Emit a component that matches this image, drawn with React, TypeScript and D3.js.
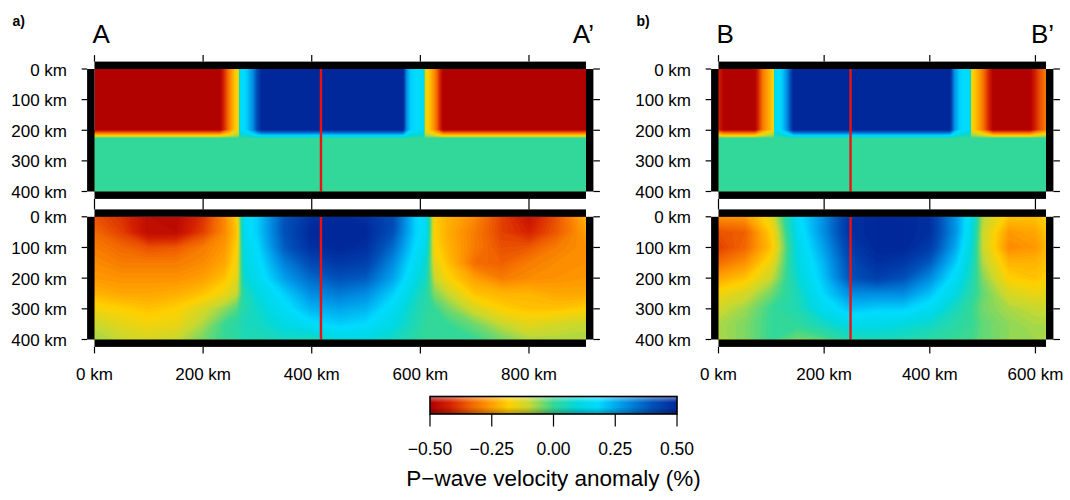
import * as d3 from 'd3';
import React from 'react';

const FONT = '"Liberation Sans", Arial, Helvetica, sans-serif';

// colour table (anomaly % -> colour)
const cptValues = [-0.5, -0.42, -0.34, -0.26, -0.18, -0.1, 0, 0.1, 0.18, 0.28, 0.4, 0.5];
const cptColors = ['#b00000', '#d42000', '#f06000', '#ff9800', '#ffd000', '#c8d830', '#34d896', '#00d8e0', '#00dcff', '#0098e8', '#0050b8', '#00289a'];
const colorbarTicks = [-0.5, -0.25, 0, 0.25, 0.5];

const depthTicks = [0, 100, 200, 300, 400];
const ticksA = [0, 200, 400, 600, 800];
const ticksB = [0, 200, 400, 600];
const lengthA = 905;
const lengthB = 620;
const crossA = 417;
const crossB = 250;

// profile A, input model (km along profile / depth km)
const modelACols = [0, 231, 248, 258, 266, 268, 280, 292, 300, 308, 568, 574, 582, 606, 608, 617, 628, 642, 905];
const modelARows = [0, 198, 210, 218, 226, 400];
const modelA = [
  [-0.5, -0.5, -0.3, -0.2, -0.15, 0.15, 0.2, 0.3, 0.42, 0.5, 0.5, 0.3, 0.2, 0.15, -0.15, -0.2, -0.3, -0.5, -0.5],
  [-0.5, -0.5, -0.3, -0.2, -0.15, 0.15, 0.2, 0.3, 0.42, 0.5, 0.5, 0.3, 0.2, 0.15, -0.15, -0.2, -0.3, -0.5, -0.5],
  [-0.3, -0.3, -0.2, -0.14, -0.1, 0.1, 0.13, 0.2, 0.26, 0.3, 0.3, 0.2, 0.13, 0.1, -0.1, -0.13, -0.2, -0.3, -0.3],
  [-0.17, -0.17, -0.12, -0.08, -0.06, 0.06, 0.08, 0.12, 0.15, 0.17, 0.17, 0.12, 0.08, 0.06, -0.06, -0.08, -0.12, -0.17, -0.17],
  [0, 0, 0, 0, 0, 0, 0, 0, 0, 0, 0, 0, 0, 0, 0, 0, 0, 0, 0],
  [0, 0, 0, 0, 0, 0, 0, 0, 0, 0, 0, 0, 0, 0, 0, 0, 0, 0, 0],
];

// profile A, recovered model
const recACols = [0, 50, 100, 150, 200, 240, 262, 276, 300, 350, 400, 450, 500, 550, 590, 610, 626, 650, 700, 750, 800, 850, 905];
const recARows = [0, 50, 100, 150, 200, 250, 300, 350, 400];
const recA = [
  [-0.36, -0.4, -0.47, -0.48, -0.4, -0.28, -0.18, 0.15, 0.2, 0.4, 0.48, 0.5, 0.48, 0.42, 0.2, 0.15, -0.18, -0.22, -0.28, -0.38, -0.45, -0.36, -0.22],
  [-0.33, -0.38, -0.47, -0.47, -0.38, -0.28, -0.2, 0.15, 0.2, 0.4, 0.5, 0.5, 0.5, 0.4, 0.2, 0.15, -0.18, -0.23, -0.3, -0.38, -0.42, -0.35, -0.25],
  [-0.3, -0.33, -0.36, -0.35, -0.3, -0.26, -0.18, 0.12, 0.18, 0.38, 0.48, 0.5, 0.48, 0.35, 0.18, 0.12, -0.17, -0.22, -0.3, -0.36, -0.35, -0.3, -0.27],
  [-0.28, -0.3, -0.3, -0.3, -0.28, -0.24, -0.16, 0.1, 0.16, 0.32, 0.42, 0.46, 0.44, 0.3, 0.15, 0.08, -0.14, -0.2, -0.32, -0.34, -0.3, -0.28, -0.27],
  [-0.26, -0.27, -0.27, -0.27, -0.25, -0.2, -0.14, 0.08, 0.14, 0.27, 0.36, 0.4, 0.38, 0.26, 0.12, 0.06, -0.1, -0.17, -0.25, -0.3, -0.28, -0.27, -0.26],
  [-0.22, -0.24, -0.24, -0.23, -0.2, -0.15, -0.1, 0.04, 0.1, 0.2, 0.3, 0.33, 0.3, 0.2, 0.08, 0.03, -0.05, -0.1, -0.2, -0.22, -0.22, -0.24, -0.24],
  [-0.16, -0.18, -0.2, -0.18, -0.12, -0.06, -0.02, 0.03, 0.07, 0.16, 0.24, 0.26, 0.24, 0.15, 0.05, 0.02, 0.0, -0.04, -0.12, -0.18, -0.2, -0.2, -0.18],
  [-0.1, -0.14, -0.16, -0.15, -0.08, 0.0, 0.02, 0.05, 0.06, 0.11, 0.17, 0.2, 0.18, 0.11, 0.04, 0.01, 0.0, 0.0, -0.04, -0.1, -0.14, -0.12, -0.1],
  [-0.07, -0.1, -0.12, -0.1, -0.04, 0.0, 0.02, 0.04, 0.04, 0.06, 0.04, 0.1, 0.1, 0.06, 0.02, 0.0, 0.0, 0.0, 0.0, -0.04, -0.08, -0.08, -0.08],
];

// profile B, input model
const modelBCols = [0, 10, 69, 84, 100, 105, 107, 120, 130, 142, 438, 446, 456, 476, 478, 486, 500, 520, 590, 605, 620];
const modelBRows = [0, 198, 210, 218, 226, 400];
const modelB = [
  [-0.42, -0.5, -0.5, -0.3, -0.2, -0.15, 0.15, 0.2, 0.3, 0.5, 0.5, 0.3, 0.2, 0.15, -0.15, -0.2, -0.3, -0.5, -0.5, -0.38, -0.3],
  [-0.42, -0.5, -0.5, -0.3, -0.2, -0.15, 0.15, 0.2, 0.3, 0.5, 0.5, 0.3, 0.2, 0.15, -0.15, -0.2, -0.3, -0.5, -0.5, -0.38, -0.3],
  [-0.25, -0.3, -0.3, -0.18, -0.12, -0.09, 0.09, 0.12, 0.18, 0.3, 0.3, 0.18, 0.12, 0.09, -0.09, -0.12, -0.18, -0.3, -0.3, -0.23, -0.18],
  [-0.14, -0.17, -0.17, -0.1, -0.07, -0.05, 0.05, 0.07, 0.1, 0.17, 0.17, 0.1, 0.07, 0.05, -0.05, -0.07, -0.1, -0.17, -0.17, -0.13, -0.1],
  [0, 0, 0, 0, 0, 0, 0, 0, 0, 0, 0, 0, 0, 0, 0, 0, 0, 0, 0, 0, 0],
  [0, 0, 0, 0, 0, 0, 0, 0, 0, 0, 0, 0, 0, 0, 0, 0, 0, 0, 0, 0, 0],
];

// profile B, recovered model
const recBCols = [0, 50, 100, 150, 200, 250, 300, 350, 400, 450, 480, 500, 550, 600, 620];
const recBRows = [0, 50, 100, 150, 200, 250, 300, 350, 400];
const recB = [
  [-0.27, -0.26, -0.14, 0.16, 0.3, 0.48, 0.5, 0.5, 0.48, 0.28, 0.12, -0.08, -0.2, -0.2, -0.18],
  [-0.36, -0.34, -0.18, 0.14, 0.3, 0.48, 0.5, 0.5, 0.48, 0.28, 0.1, -0.1, -0.26, -0.24, -0.2],
  [-0.38, -0.33, -0.2, 0.12, 0.27, 0.45, 0.5, 0.5, 0.45, 0.25, 0.08, -0.1, -0.28, -0.26, -0.22],
  [-0.32, -0.27, -0.15, 0.1, 0.24, 0.42, 0.48, 0.46, 0.38, 0.2, 0.06, -0.08, -0.22, -0.22, -0.2],
  [-0.24, -0.2, -0.1, 0.08, 0.22, 0.4, 0.44, 0.4, 0.3, 0.15, 0.04, -0.05, -0.18, -0.2, -0.18],
  [-0.16, -0.12, -0.04, 0.05, 0.19, 0.3, 0.3, 0.3, 0.22, 0.1, 0.02, -0.03, -0.12, -0.15, -0.14],
  [-0.11, -0.07, 0.0, 0.04, 0.14, 0.22, 0.2, 0.2, 0.15, 0.05, 0.0, -0.04, -0.08, -0.1, -0.1],
  [-0.08, -0.05, 0.0, 0.01, 0.06, 0.12, 0.12, 0.1, 0.07, 0.02, 0.0, -0.03, -0.06, -0.08, -0.08],
  [-0.08, -0.05, 0.0, -0.04, -0.02, 0.04, 0.05, 0.04, 0.02, 0.0, -0.01, -0.03, -0.06, -0.07, -0.07],
];

const color = d3.scaleLinear<string>().domain(cptValues).range(cptColors).clamp(true);
const levels = d3.range(-0.52, 0.52, 0.01);

const BAR = 7.4;

function Field({ cols, rows, values, x, y, id }: any) {
  const n = cols.length;
  const m = rows.length;
  const ix = d3.scaleLinear().domain(d3.range(n)).range(cols).clamp(true);
  const iy = d3.scaleLinear().domain(d3.range(m)).range(rows).clamp(true);
  const proj = d3.geoTransform({
    point(px: number, py: number) {
      this.stream.point(x(ix(px - 0.5)), y(iy(py - 0.5)));
    },
  });
  const path = d3.geoPath(proj);
  const bands = d3.contours().size([n, m]).thresholds(levels)(values.flat());
  const [x0, x1] = x.range();
  const [y0, y1] = y.range();
  return (
    <g>
      <clipPath id={id}>
        <rect x={x0} y={y0} width={x1 - x0} height={y1 - y0} />
      </clipPath>
      <g clipPath={`url(#${id})`}>
        {bands.map((b, i) => (
          <path key={i} d={path(b as any) || ''} fill={color(b.value + 0.005)} />
        ))}
      </g>
    </g>
  );
}

function Frame({ x, y }: any) {
  const [x0, x1] = x.range();
  const [y0, y1] = y.range();
  return (
    <g fill="#000">
      <rect x={x0} y={y0 - BAR} width={x1 - x0} height={BAR} />
      <rect x={x0} y={y1} width={x1 - x0} height={BAR} />
      <rect x={x0 - BAR} y={y0} width={BAR} height={y1 - y0} />
      <rect x={x1} y={y0} width={BAR} height={y1 - y0} />
    </g>
  );
}

function DepthAxis({ x, y }: any) {
  const [x0, x1] = x.range();
  return (
    <g>
      {depthTicks.map(d => (
        <g key={d}>
          <line x1={x0 - BAR - 5.5} x2={x0 - BAR} y1={y(d)} y2={y(d)} stroke="#000" strokeWidth={1.2} />
          <line x1={x1 + BAR} x2={x1 + BAR + 6.5} y1={y(d)} y2={y(d)} stroke="#000" strokeWidth={1.2} />
          <text x={x0 - 27.5} y={y(d) + 6.5} textAnchor="end" fontSize={17} fontFamily={FONT}>
            {`${d} km`}
          </text>
        </g>
      ))}
    </g>
  );
}

function Profile({ x, ticks, cross, model, rec, name, letter, tag }: any) {
  const yTop = d3.scaleLinear().domain([0, 400]).range([69, 191.5]);
  const yBot = d3.scaleLinear().domain([0, 400]).range([216.8, 339.5]);
  const [x0, x1] = x.range();
  return (
    <g>
      <Field {...model} x={x} y={yTop} id={`clip-top-${name}`} />
      <Field {...rec} x={x} y={yBot} id={`clip-bot-${name}`} />
      {[yTop, yBot].map((y, i) => (
        <line key={i} x1={x(cross)} x2={x(cross)} y1={y.range()[0]} y2={y.range()[1]} stroke="#ee1111" strokeWidth={2.4} />
      ))}
      <Frame x={x} y={yTop} />
      <Frame x={x} y={yBot} />
      <DepthAxis x={x} y={yTop} />
      <DepthAxis x={x} y={yBot} />
      {ticks.map((t: number) => (
        <g key={t}>
          <line x1={x(t)} x2={x(t)} y1={69 - BAR - 6.5} y2={69 - BAR} stroke="#000" strokeWidth={1.2} />
          <line x1={x(t)} x2={x(t)} y1={191.5 + BAR} y2={216.8 - BAR} stroke="#000" strokeWidth={1.2} />
          <line x1={x(t)} x2={x(t)} y1={339.5 + BAR} y2={339.5 + BAR + 6.5} stroke="#000" strokeWidth={1.2} />
          <text x={x(t)} y={379.5} textAnchor="middle" fontSize={17} fontFamily={FONT}>
            {`${t} km`}
          </text>
        </g>
      ))}
      <text x={x0 - 82} y={25.5} fontSize={14} fontWeight="bold" fontFamily={FONT}>{tag}</text>
      <text x={x0 - 2} y={43} fontSize={26} fontFamily={FONT}>{letter}</text>
      <text x={x1 + 8} y={43} fontSize={26} fontFamily={FONT} textAnchor="end">{`${letter}\u2019`}</text>
    </g>
  );
}

function Colorbar() {
  const cx = d3.scaleLinear().domain([-0.5, 0.5]).range([430, 677]);
  const top = 396.5;
  const h = 17.5;
  return (
    <g>
      <defs>
        <linearGradient id="cbar" gradientUnits="userSpaceOnUse" x1={cx(-0.5)} x2={cx(0.5)} y1={0} y2={0}>
          {cptValues.map((v, i) => (
            <stop key={i} offset={(v + 0.5) / 1} stopColor={cptColors[i]} />
          ))}
        </linearGradient>
        <linearGradient id="cshade" x1={0} x2={0} y1={0} y2={1}>
          <stop offset={0} stopColor="#fff" stopOpacity={0.45} />
          <stop offset={0.35} stopColor="#fff" stopOpacity={0} />
          <stop offset={0.6} stopColor="#000" stopOpacity={0} />
          <stop offset={1} stopColor="#000" stopOpacity={0.3} />
        </linearGradient>
      </defs>
      <rect x={cx(-0.5)} y={top} width={cx(0.5) - cx(-0.5)} height={h} fill="url(#cbar)" />
      <rect x={cx(-0.5)} y={top} width={cx(0.5) - cx(-0.5)} height={h} fill="url(#cshade)" stroke="#000" strokeWidth={1.6} />
      {colorbarTicks.map(t => (
        <g key={t}>
          <line x1={cx(t)} x2={cx(t)} y1={top + h} y2={top + h + 12.5} stroke="#000" strokeWidth={1.2} />
          <text x={cx(t)} y={455} textAnchor="middle" fontSize={17.5} fontFamily={FONT}>
            {d3.format('.2f')(t).replace('-', '\u2212')}
          </text>
        </g>
      ))}
      <text x={553.5} y={486} textAnchor="middle" fontSize={22.5} fontFamily={FONT}>
        {'P\u2212wave velocity anomaly (%)'}
      </text>
    </g>
  );
}

export default function App() {
  const xA = d3.scaleLinear().domain([0, lengthA]).range([94.5, 586]);
  const xB = d3.scaleLinear().domain([0, lengthB]).range([718.5, 1046]);
  return (
    <svg width={1070} height={500} style={{ position: 'absolute', left: 0, top: 0, background: '#fff' }}>
      <Profile
        x={xA}
        ticks={ticksA}
        cross={crossA}
        model={{ cols: modelACols, rows: modelARows, values: modelA }}
        rec={{ cols: recACols, rows: recARows, values: recA }}
        name="a"
        letter="A"
        tag="a)"
      />
      <Profile
        x={xB}
        ticks={ticksB}
        cross={crossB}
        model={{ cols: modelBCols, rows: modelBRows, values: modelB }}
        rec={{ cols: recBCols, rows: recBRows, values: recB }}
        name="b"
        letter="B"
        tag="b)"
      />
      <Colorbar />
    </svg>
  );
}
